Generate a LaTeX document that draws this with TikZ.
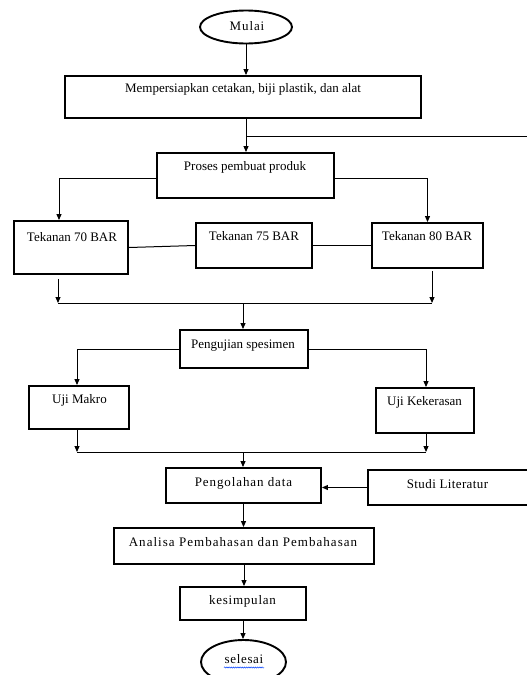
\documentclass[tikz,border=0pt]{standalone}
\usepackage{fontspec}
\setmainfont{Liberation Serif}
\usetikzlibrary{arrows.meta,shapes.geometric,decorations.pathmorphing,calc}
\begin{document}
\begin{tikzpicture}[x=1pt,y=-1pt,
  box/.style={draw,line width=1.9pt,rectangle,inner sep=0pt},
  term/.style={draw,line width=1.9pt,ellipse,inner sep=0pt},
  lbl/.style={inner sep=0pt,text height=9pt,text depth=3pt,font=\fontsize{13}{15}\selectfont},
  conn/.style={line width=1pt},
  arr/.style={conn,-{Triangle[length=6pt,width=5pt]}},
]
\useasboundingbox (0,0) rectangle (527,675);
\clip (0,0) rectangle (527,675);
\fill[white] (0,0) rectangle (527,675);

% shapes
\node[term,minimum width=92pt,minimum height=33pt] (mulai) at (246,27) {};
\node[box,minimum width=356pt,minimum height=42pt] (prep) at (243,97) {};
\node[box,minimum width=177pt,minimum height=45pt] (proses) at (245.5,175.5) {};
\node[box,minimum width=114pt,minimum height=53pt] (t70) at (71,247.5) {};
\node[box,minimum width=116pt,minimum height=45pt] (t75) at (254,245.5) {};
\node[box,minimum width=111pt,minimum height=45pt] (t80) at (427.5,245.5) {};
\node[box,minimum width=128pt,minimum height=38pt] (uji) at (244,349) {};
\node[box,minimum width=100pt,minimum height=43pt] (makro) at (79,407.5) {};
\node[box,minimum width=98pt,minimum height=45pt] (keras) at (425,410.5) {};
\node[box,minimum width=155pt,minimum height=35pt] (olah) at (243.5,485.5) {};
\node[box,minimum width=172pt,minimum height=35pt] (studi) at (454,487.5) {};
\node[box,minimum width=260pt,minimum height=36pt] (analisa) at (244,546) {};
\node[box,minimum width=126pt,minimum height=33pt] (kes) at (243,603.5) {};
\node[term,minimum width=85pt,minimum height=44pt] (selesai) at (243.5,662) {};

% labels
\node[lbl] (mulaiT) at (247,27) {\addfontfeatures{LetterSpace=7}Mulai};
\node[lbl] (prepT) at (243,89) {Mempersiapkan cetakan, biji plastik, dan alat};
\node[lbl] (prosesT) at (245,167) {Proses pembuat produk};
\node[lbl] (t70T) at (72,238) {Tekanan 70 BAR};
\node[lbl] (t75T) at (254,237) {Tekanan 75 BAR};
\node[lbl] (t80T) at (427,237) {Tekanan 80 BAR};
\node[lbl] (ujiT) at (243,345) {Pengujian spesimen};
\node[lbl] (makroT) at (79.5,400) {Uji Makro};
\node[lbl] (kerasT) at (424.5,402) {Uji Kekerasan};
\node[lbl] (olahT) at (243.5,483) {\addfontfeatures{LetterSpace=7}Pengolahan data};
\node[lbl] (studiT) at (447.5,485) {\addfontfeatures{LetterSpace=3}Studi Literatur};
\node[lbl] (analisaT) at (243,543) {\addfontfeatures{LetterSpace=8}Analisa Pembahasan dan Pembahasan};
\node[lbl] (kesT) at (242.5,601) {\addfontfeatures{LetterSpace=6}kesimpulan};
\node[lbl] (selesaiT) at (244,660) {\addfontfeatures{LetterSpace=5}selesai};
\draw[blue!75!cyan,line width=0.5pt,decorate,decoration={snake,amplitude=0.6pt,segment length=2.2pt}] (224,667.5) -- (264,667.5);

% connectors
\coordinate (sp) at (246,0);
\coordinate (j0) at (246,136);
\coordinate (edge) at (530,136);
\draw[arr] (mulai.south) -- (mulai.south |- prep.north);
\draw[arr] (prep.south -| sp) -- (proses.north -| sp);
\draw[conn] (j0) -- (edge);

\draw[arr] ($(proses.west)+(0,2.5)$) -| ($(t70.north)+(-12,0)$);
\draw[arr] ($(proses.east)+(0,2.5)$) -| (t80.north);
\draw[conn] (t70.east) -- (t75.west);
\draw[conn] (t75.east) -- (t80.west);

\coordinate (jl) at (58,303);
\coordinate (jr) at (432,303);
\coordinate (jm) at (243,303);
\draw[arr] ($(t70.south)+(-13,4)$) -- (jl);
\draw[arr] ($(t80.south)+(4.5,2)$) -- (jr);
\draw[conn] (jl) -- (jr);
\draw[arr] (jm) -- (jm |- uji.north);

\draw[arr] (uji.west) -| ($(makro.north)+(-2,0)$);
\draw[arr] (uji.east) -| ($(keras.north)+(1,0)$);

\coordinate (kl) at (77,452);
\coordinate (kr) at (426,452);
\coordinate (km) at (243,452);
\draw[arr] ($(makro.south)+(-2,0)$) -- (kl);
\draw[arr] ($(keras.south)+(1,0)$) -- (kr);
\draw[conn] (kl) -- (kr);
\draw[arr] (km) -- (km |- olah.north);

\draw[arr] (studi.west) -- (studi.west -| olah.east);
\draw[arr] (olah.south) -- (olah.south |- analisa.north);
\draw[arr] (analisa.south) -- (analisa.south |- kes.north);
\draw[arr] (kes.south) -- (kes.south |- selesai.north);
\end{tikzpicture}
\end{document}
